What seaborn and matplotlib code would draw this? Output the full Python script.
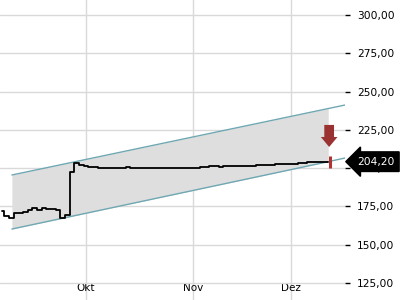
import numpy as np
import pandas as pd
import matplotlib
matplotlib.use("Agg")
import matplotlib.pyplot as plt
import seaborn as sns
from matplotlib.ticker import FuncFormatter

# ---- data ----
price = [172.0, 168.7, 167.4, 170.7, 171.0, 171.5, 172.6, 173.7, 172.6, 173.7,
         173.3, 173.3, 172.8, 167.4, 169.4, 197.5, 203.4, 202.3, 201.5, 201.0,
         200.6, 200.3, 200.2, 200.1, 200.0, 200.2, 200.3, 200.4, 200.2, 200.0,
         200.1, 200.1, 200.2, 200.0, 199.9, 200.0, 200.1, 200.2, 200.0, 200.1,
         200.2, 200.3, 200.3, 200.5, 200.8, 201.1, 201.2, 201.0, 201.3, 201.4,
         201.1, 201.5, 201.6, 201.4, 201.7, 201.9, 202.1, 202.2, 202.3, 202.5,
         202.6, 202.7, 202.8, 203.0, 203.3, 203.6, 203.8, 203.9, 203.7, 204.0,
         204.2]
day = list(range(len(price)))

chan_x = [2.1, 70.0, 73.6]
chan_upper = [195.5, 238.9, 241.2]
chan_lower = [160.2, 204.2, 206.6]

month_pos = [18, 41, 62]
month_labels = ["Okt", "Nov", "Dez"]
y_ticks = [125, 150, 175, 200, 225, 250, 275, 300]
last_price = price[-1]

# ---- style ----
sns.set_style("white")
plt.rcParams["font.family"] = ["DejaVu Sans"]

fig = plt.figure(figsize=(4, 3), dpi=100)
ax = fig.add_axes([0, 0, 345 / 400, 1])

df = pd.DataFrame({"day": day, "price": price})

# channel
ax.fill_between(chan_x[:2], chan_lower[:2], chan_upper[:2], color="#dedede", lw=0, zorder=1)
ax.plot(chan_x, chan_upper, color="#6fa8b2", lw=1.0, zorder=2)
ax.plot(chan_x, chan_lower, color="#6fa8b2", lw=1.0, zorder=2)

# price line
sns.lineplot(data=df, x="day", y="price", ax=ax, color="black", lw=1.3,
             drawstyle="steps-mid", zorder=4, legend=False)

# red marker at last point
ax.plot([day[-1] + 0.3], [last_price], marker="|", markersize=9, mew=2.2,
        color="#b03434", zorder=5)

# red down arrow
ax.annotate("", xy=(day[-1] + 0.2, last_price + 9.6), xytext=(day[-1] + 0.2, last_price + 24.0),
            arrowprops=dict(arrowstyle="simple,head_width=1.2,head_length=0.72,tail_width=0.7",
                            color="#9b3232", lw=0, mutation_scale=10,
                            shrinkA=0, shrinkB=0), zorder=6)

# axes config
ax.set_xlim(-0.45, 73.6)
ax.set_ylim(113.85, 309.8)
ax.set_xticks(month_pos)
ax.set_xticklabels(month_labels)
ax.set_yticks(y_ticks)
ax.yaxis.set_major_formatter(FuncFormatter(lambda v, p: f"{v:.2f}".replace(".", ",")))
ax.yaxis.tick_right()
ax.tick_params(axis="y", direction="out", length=3.5, width=1, color="black",
               pad=5, labelsize=7.7, labelcolor="black")
ax.tick_params(axis="x", direction="in", length=3, width=1, color="black",
               pad=-12, labelsize=7.5, labelcolor="black")
ax.grid(True, color="#d9d9d9", lw=1)
ax.set_axisbelow(True)
for s in ax.spines.values():
    s.set_visible(False)
ax.set_xlabel("")
ax.set_ylabel("")

# price label
ax.annotate(f"{last_price:.2f}".replace(".", ","), xy=(1.0, last_price),
            xycoords=("axes fraction", "data"), xytext=(8.6, 0), textcoords="offset points",
            ha="left", va="center", color="white", fontsize=7.7,
            bbox=dict(boxstyle="larrow,pad=0.45", fc="black", ec="black"),
            annotation_clip=False, zorder=10)

fig.savefig("out.png", dpi=100)
